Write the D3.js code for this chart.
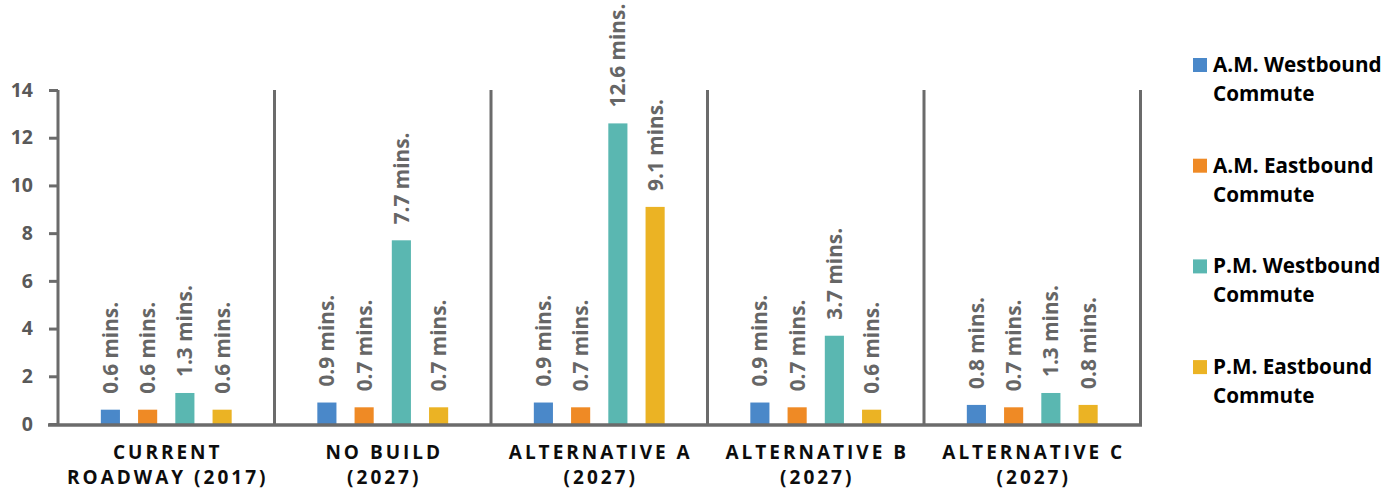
<!DOCTYPE html>
<html>
<head>
<meta charset="utf-8">
<script src="https://cdn.jsdelivr.net/npm/d3@7"></script>
<style>
  html, body { margin: 0; padding: 0; background: #fff; }
  svg { display: block; font-family: "Open Sans", "Noto Sans", sans-serif; }
</style>
</head>
<body>
<svg id="chart" width="1399" height="493"></svg>
<script>
// ---- data ----
const categoryLine1 = ["CURRENT", "NO BUILD", "ALTERNATIVE A", "ALTERNATIVE B", "ALTERNATIVE C"];
const categoryLine2 = ["ROADWAY (2017)", "(2027)", "(2027)", "(2027)", "(2027)"];
const seriesNames = ["A.M. Westbound Commute", "A.M. Eastbound Commute", "P.M. Westbound Commute", "P.M. Eastbound Commute"];
const legendLine1 = ["A.M. Westbound", "A.M. Eastbound", "P.M. Westbound", "P.M. Eastbound"];
const legendLine2 = ["Commute", "Commute", "Commute", "Commute"];
const amWestbound = [0.6, 0.9, 0.9, 0.9, 0.8];
const amEastbound = [0.6, 0.7, 0.7, 0.7, 0.7];
const pmWestbound = [1.3, 7.7, 12.6, 3.7, 1.3];
const pmEastbound = [0.6, 0.7, 9.1, 0.6, 0.8];
const yTicks = [0, 2, 4, 6, 8, 10, 12, 14];
const colors = ["#4a88c9", "#ef8a25", "#5ab7b1", "#ebb324"];

const seriesValues = [amWestbound, amEastbound, pmWestbound, pmEastbound];

// ---- layout ----
const svg = d3.select("#chart");
const plotLeft = 58, plotRight = 1140.5, plotTop = 90, plotBottom = 424;
const axisColor = "#6b6b6b";

const y = d3.scaleLinear().domain([0, 14]).range([plotBottom, plotTop]);
const x0 = d3.scaleBand().domain(d3.range(categoryLine1.length)).range([plotLeft, plotRight]).padding(0);
const x1 = d3.scaleBand().domain(d3.range(seriesNames.length)).range([0, x0.bandwidth()])
  .paddingInner(0.4865).paddingOuter(1.15);

// bars
const rows = [];
categoryLine1.forEach((c, ci) => {
  seriesValues.forEach((vals, si) => rows.push({ ci, si, v: vals[ci] }));
});

svg.append("g").selectAll("rect").data(rows).join("rect")
  .attr("x", d => x0(d.ci) + x1(d.si))
  .attr("y", d => y(d.v))
  .attr("width", x1.bandwidth())
  .attr("height", d => y(0) - y(d.v))
  .attr("fill", d => colors[d.si]);

// value labels (rotated)
svg.append("g").selectAll("text").data(rows).join("text")
  .attr("transform", d => `translate(${x0(d.ci) + x1(d.si) + x1.bandwidth() / 2},${y(d.v) - 16}) rotate(-90)`)
  .attr("dy", "0.36em")
  .attr("text-anchor", "start")
  .attr("font-size", "20.8px")
  .attr("font-weight", "bold")
  .attr("fill", "#666666")
  .text(d => d.v.toFixed(1) + " mins.");

// category divider lines
svg.append("g").selectAll("line").data(d3.range(1, categoryLine1.length + 1)).join("line")
  .attr("x1", i => i < categoryLine1.length ? x0(i) : plotRight)
  .attr("x2", i => i < categoryLine1.length ? x0(i) : plotRight)
  .attr("y1", plotTop)
  .attr("y2", plotBottom + 1)
  .attr("stroke", axisColor)
  .attr("stroke-width", 3);

// y axis
const yAxis = svg.append("g")
  .attr("transform", `translate(${plotLeft},0)`)
  .call(d3.axisLeft(y).tickValues(yTicks).tickSize(9).tickPadding(16).tickSizeOuter(0));
yAxis.select(".domain").attr("stroke", axisColor).attr("stroke-width", 3)
  .attr("d", `M0,${plotTop}V${plotBottom + 1}`);
yAxis.selectAll(".tick line").attr("stroke", axisColor).attr("stroke-width", 3);
yAxis.selectAll(".tick text")
  .attr("font-size", "19.5px").attr("font-weight", "bold")
  .attr("fill", "#595959").attr("font-family", "'Open Sans', sans-serif");

// x axis line
svg.append("line")
  .attr("x1", plotLeft - 10).attr("x2", plotRight + 1.5)
  .attr("y1", plotBottom + 1).attr("y2", plotBottom + 1)
  .attr("stroke", axisColor).attr("stroke-width", 3.5);

// category labels
const catG = svg.append("g").selectAll("text").data(d3.range(categoryLine1.length)).join("text")
  .attr("text-anchor", "middle")
  .attr("font-size", "19px")
  .attr("font-weight", "bold")
  .attr("fill", "#0d0d0d")
  .attr("letter-spacing", "3px");
catG.append("tspan")
  .attr("x", i => x0(i) + x0.bandwidth() / 2 + 1.5)
  .attr("y", 459)
  .text(i => categoryLine1[i]);
catG.append("tspan")
  .attr("x", i => x0(i) + x0.bandwidth() / 2 + 1.5)
  .attr("y", 484)
  .text(i => categoryLine2[i]);

// legend
const legend = svg.append("g").selectAll("g").data(d3.range(seriesNames.length)).join("g")
  .attr("transform", i => `translate(1193,${72 + i * 100.7})`);
legend.append("rect")
  .attr("x", 0).attr("y", -14).attr("width", 14).attr("height", 14)
  .attr("fill", i => colors[i]);
const lt = legend.append("text")
  .attr("font-size", "20.7px").attr("font-weight", "bold").attr("fill", "#000");
lt.append("tspan").attr("x", 20).attr("y", 0).text(i => legendLine1[i]);
lt.append("tspan").attr("x", 20).attr("y", 29).text(i => legendLine2[i]);
</script>
</body>
</html>
